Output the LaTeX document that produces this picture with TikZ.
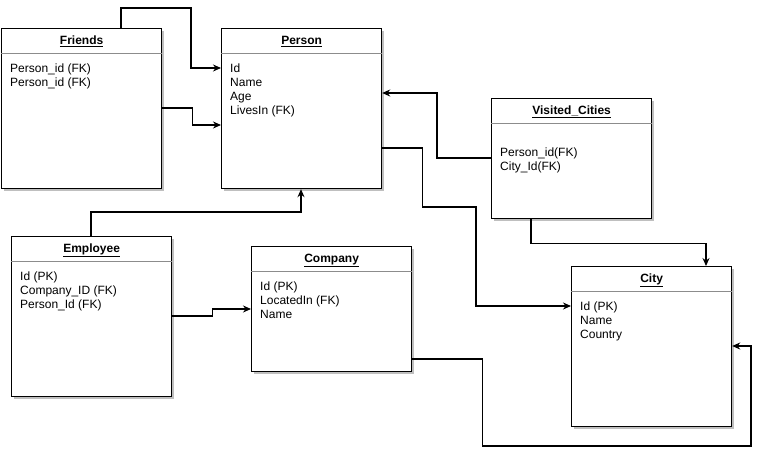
\documentclass[tikz,border=0pt]{standalone}
\usepackage{fontspec}
\setmainfont{Liberation Sans}
\usetikzlibrary{arrows.meta,shadows,calc}
\tikzset{
  entity/.style={draw=black, line width=1.2pt, fill=white, minimum width=160pt, inner sep=0pt, anchor=north west,
    drop shadow={shadow xshift=2.5pt, shadow yshift=-2.5pt, fill=black, opacity=0.25}},
  etitle/.style={font=\fontsize{12}{14}\selectfont\bfseries, inner sep=0pt, anchor=base},
  fline/.style={font=\fontsize{12}{14}\selectfont, inner sep=0pt, anchor=base west},
  divider/.style={draw=gray!90, line width=0.9pt},
  conn/.style={draw=black, line width=1.2pt, -{Stealth[length=8pt,width=7pt]}},
}
\begin{document}
\begin{tikzpicture}[x=1pt,y=-1pt]
\useasboundingbox (0,0) rectangle (767,462);

% Friends
\node[entity, minimum height=160pt] (friends) at (1,28) {};
\node[etitle] (friends-t) at ($(friends.north)+(0,16.5)$) {\underline{Friends}};
\draw[divider] ($(friends.north west)+(0,25)$) -- ($(friends.north east)+(0,25)$);
\node[fline] (friends-f1) at ($(friends.north west)+(9,44.5)$) {Person\_id (FK)};
\node[fline] (friends-f2) at ($(friends.north west)+(9,58.5)$) {Person\_id (FK)};

% Person
\node[entity, minimum height=160pt] (person) at (221,28) {};
\node[etitle] (person-t) at ($(person.north)+(0,16.5)$) {\underline{Person}};
\draw[divider] ($(person.north west)+(0,25)$) -- ($(person.north east)+(0,25)$);
\node[fline] (person-f1) at ($(person.north west)+(9,44.5)$) {Id};
\node[fline] (person-f2) at ($(person.north west)+(9,58.5)$) {Name};
\node[fline] (person-f3) at ($(person.north west)+(9,72.5)$) {Age};
\node[fline] (person-f4) at ($(person.north west)+(9,86.5)$) {LivesIn (FK)};

% Visited_Cities
\node[entity, minimum height=120pt] (visited) at (491,98) {};
\node[etitle] (visited-t) at ($(visited.north)+(0,16.5)$) {\underline{Visited\_Cities}};
\draw[divider] ($(visited.north west)+(0,25)$) -- ($(visited.north east)+(0,25)$);
\node[fline] (visited-f1) at ($(visited.north west)+(9,58.5)$) {Person\_id(FK)};
\node[fline] (visited-f2) at ($(visited.north west)+(9,72.5)$) {City\_Id(FK)};

% Employee
\node[entity, minimum height=160pt] (employee) at (11,236) {};
\node[etitle] (employee-t) at ($(employee.north)+(0,16.5)$) {\underline{Employee}};
\draw[divider] ($(employee.north west)+(0,25)$) -- ($(employee.north east)+(0,25)$);
\node[fline] (employee-f1) at ($(employee.north west)+(9,44.5)$) {Id (PK)};
\node[fline] (employee-f2) at ($(employee.north west)+(9,58.5)$) {Company\_ID (FK)};
\node[fline] (employee-f3) at ($(employee.north west)+(9,72.5)$) {Person\_Id (FK)};

% Company
\node[entity, minimum height=125pt] (company) at (251,246) {};
\node[etitle] (company-t) at ($(company.north)+(0,16.5)$) {\underline{Company}};
\draw[divider] ($(company.north west)+(0,25)$) -- ($(company.north east)+(0,25)$);
\node[fline] (company-f1) at ($(company.north west)+(9,44.5)$) {Id (PK)};
\node[fline] (company-f2) at ($(company.north west)+(9,58.5)$) {LocatedIn (FK)};
\node[fline] (company-f3) at ($(company.north west)+(9,72.5)$) {Name};

% City
\node[entity, minimum height=160pt] (city) at (571,266) {};
\node[etitle] (city-t) at ($(city.north)+(0,16.5)$) {\underline{City}};
\draw[divider] ($(city.north west)+(0,25)$) -- ($(city.north east)+(0,25)$);
\node[fline] (city-f1) at ($(city.north west)+(9,44.5)$) {Id (PK)};
\node[fline] (city-f2) at ($(city.north west)+(9,58.5)$) {Name};
\node[fline] (city-f3) at ($(city.north west)+(9,72.5)$) {Country};

% Connectors
\draw[conn] ($(friends.north west)+(120,0)$) -- ++(0,-20) -| (191,40) |- ($(person.north west)+(0,40)$);
\draw[conn] ($(friends.north east)+(0,80)$) -- ++(30,0) |- ($(person.north west)+(0,97)$);
\draw[conn] ($(visited.north west)+(0,60)$) -- ++(-54,0) |- ($(person.north east)+(0,65)$);
\draw[conn] ($(person.north east)+(0,120)$) -- ++(40,0) |- (476,207) |- ($(city.north west)+(0,40)$);
\draw[conn] ($(visited.south west)+(40,0)$) -- ++(0,24) -| ($(city.north west)+(135,0)$);
\draw[conn] ($(employee.north west)+(80,0)$) -- ++(0,-24) -| ($(person.south west)+(80,0)$);
\draw[conn] ($(employee.north east)+(0,80)$) -- ++(40,0) |- ($(company.north west)+(0,63)$);
\draw[conn] ($(company.north east)+(0,113)$) -- ++(70,0) |- (751,446) |- ($(city.north east)+(0,80)$);
\end{tikzpicture}
\end{document}
